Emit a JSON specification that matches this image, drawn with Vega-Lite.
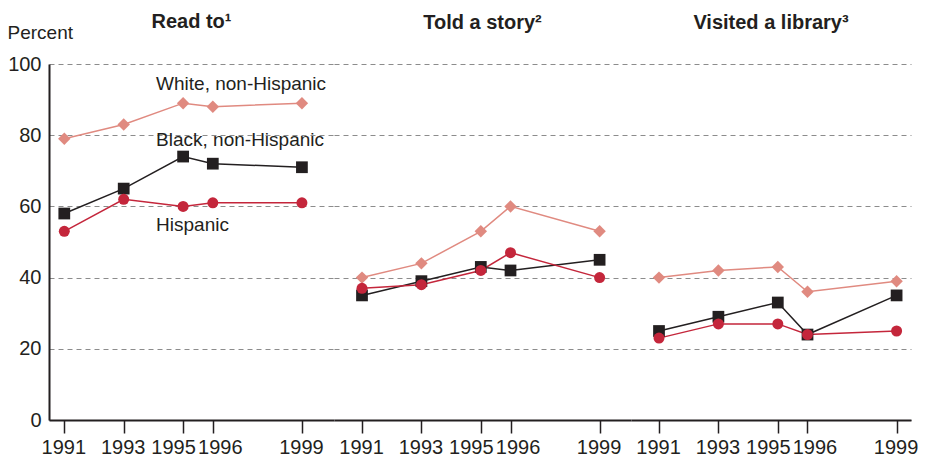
{
  "$schema": "https://vega.github.io/schema/vega-lite/v6.json",
  "background": "white",
  "padding": {"left": 7, "top": 12, "right": 5, "bottom": 0},
  "spacing": 0,
  "bounds": "flush",
  "datasets": {
    "rates": [
      {"activity": "Read to", "group": "White, non-Hispanic", "year": 1991, "percent": 79},
      {"activity": "Read to", "group": "White, non-Hispanic", "year": 1993, "percent": 83},
      {"activity": "Read to", "group": "White, non-Hispanic", "year": 1995, "percent": 89},
      {"activity": "Read to", "group": "White, non-Hispanic", "year": 1996, "percent": 88},
      {"activity": "Read to", "group": "White, non-Hispanic", "year": 1999, "percent": 89},
      {"activity": "Told a story", "group": "White, non-Hispanic", "year": 1991, "percent": 40},
      {"activity": "Told a story", "group": "White, non-Hispanic", "year": 1993, "percent": 44},
      {"activity": "Told a story", "group": "White, non-Hispanic", "year": 1995, "percent": 53},
      {"activity": "Told a story", "group": "White, non-Hispanic", "year": 1996, "percent": 60},
      {"activity": "Told a story", "group": "White, non-Hispanic", "year": 1999, "percent": 53},
      {"activity": "Visited a library", "group": "White, non-Hispanic", "year": 1991, "percent": 40},
      {"activity": "Visited a library", "group": "White, non-Hispanic", "year": 1993, "percent": 42},
      {"activity": "Visited a library", "group": "White, non-Hispanic", "year": 1995, "percent": 43},
      {"activity": "Visited a library", "group": "White, non-Hispanic", "year": 1996, "percent": 36},
      {"activity": "Visited a library", "group": "White, non-Hispanic", "year": 1999, "percent": 39},
      {"activity": "Read to", "group": "Black, non-Hispanic", "year": 1991, "percent": 58},
      {"activity": "Read to", "group": "Black, non-Hispanic", "year": 1993, "percent": 65},
      {"activity": "Read to", "group": "Black, non-Hispanic", "year": 1995, "percent": 74},
      {"activity": "Read to", "group": "Black, non-Hispanic", "year": 1996, "percent": 72},
      {"activity": "Read to", "group": "Black, non-Hispanic", "year": 1999, "percent": 71},
      {"activity": "Told a story", "group": "Black, non-Hispanic", "year": 1991, "percent": 35},
      {"activity": "Told a story", "group": "Black, non-Hispanic", "year": 1993, "percent": 39},
      {"activity": "Told a story", "group": "Black, non-Hispanic", "year": 1995, "percent": 43},
      {"activity": "Told a story", "group": "Black, non-Hispanic", "year": 1996, "percent": 42},
      {"activity": "Told a story", "group": "Black, non-Hispanic", "year": 1999, "percent": 45},
      {"activity": "Visited a library", "group": "Black, non-Hispanic", "year": 1991, "percent": 25},
      {"activity": "Visited a library", "group": "Black, non-Hispanic", "year": 1993, "percent": 29},
      {"activity": "Visited a library", "group": "Black, non-Hispanic", "year": 1995, "percent": 33},
      {"activity": "Visited a library", "group": "Black, non-Hispanic", "year": 1996, "percent": 24},
      {"activity": "Visited a library", "group": "Black, non-Hispanic", "year": 1999, "percent": 35},
      {"activity": "Read to", "group": "Hispanic", "year": 1991, "percent": 53},
      {"activity": "Read to", "group": "Hispanic", "year": 1993, "percent": 62},
      {"activity": "Read to", "group": "Hispanic", "year": 1995, "percent": 60},
      {"activity": "Read to", "group": "Hispanic", "year": 1996, "percent": 61},
      {"activity": "Read to", "group": "Hispanic", "year": 1999, "percent": 61},
      {"activity": "Told a story", "group": "Hispanic", "year": 1991, "percent": 37},
      {"activity": "Told a story", "group": "Hispanic", "year": 1993, "percent": 38},
      {"activity": "Told a story", "group": "Hispanic", "year": 1995, "percent": 42},
      {"activity": "Told a story", "group": "Hispanic", "year": 1996, "percent": 47},
      {"activity": "Told a story", "group": "Hispanic", "year": 1999, "percent": 40},
      {"activity": "Visited a library", "group": "Hispanic", "year": 1991, "percent": 23},
      {"activity": "Visited a library", "group": "Hispanic", "year": 1993, "percent": 27},
      {"activity": "Visited a library", "group": "Hispanic", "year": 1995, "percent": 27},
      {"activity": "Visited a library", "group": "Hispanic", "year": 1996, "percent": 24},
      {"activity": "Visited a library", "group": "Hispanic", "year": 1999, "percent": 25}
    ],
    "labels": [
      {"label": "White, non-Hispanic", "year": 1994.09, "percent": 92.8},
      {"label": "Black, non-Hispanic", "year": 1994.09, "percent": 76.9},
      {"label": "Hispanic", "year": 1994.09, "percent": 53.1}
    ],
    "edge": [{"top": 100, "bottom": -15}]
  },
  "hconcat": [
    {
      "width": 285,
      "height": 356,
      "title": {"text": "Read to¹", "frame": "group", "anchor": "middle", "baseline": "alphabetic", "offset": 15, "dy": 40},
      "data": {"name": "rates"},
      "transform": [{"filter": "datum.activity === 'Read to'"}],
      "encoding": {
        "x": {"field": "year", "type": "quantitative", "scale": {"domain": [1990.485, 2000.08], "nice": false, "zero": false},
          "axis": {"values": [1991, 1993, 1995, 1996, 1999]}},
        "y": {"field": "percent", "type": "quantitative", "scale": {"domain": [0, 100], "nice": false},
          "axis": {"values": [0, 20, 40, 60, 80, 100], "title": "Percent", "titleAngle": 0, "titleAlign": "left", "titleBaseline": "alphabetic", "titleX": -42, "titleY": -26, "titleFontSize": 19, "titleFontWeight": "normal", "titleColor": "#231f20", "labelFontSize": 20, "labelPadding": 8, "ticks": false, "domain": true}}
      },
      "layer": [
        {"mark": {"type": "line", "strokeWidth": 1.5}, "encoding": {"color": {"field": "group", "type": "nominal", "legend": null, "scale": {"domain": ["White, non-Hispanic", "Black, non-Hispanic", "Hispanic"], "range": ["#e08a80", "#231f20", "#c4263b"]}}}},
        {"mark": {"type": "point", "filled": true, "opacity": 1}, "encoding": {"color": {"field": "group", "type": "nominal", "legend": null, "scale": {"domain": ["White, non-Hispanic", "Black, non-Hispanic", "Hispanic"], "range": ["#e08a80", "#231f20", "#c4263b"]}}, "shape": {"field": "group", "type": "nominal", "legend": null, "scale": {"domain": ["White, non-Hispanic", "Black, non-Hispanic", "Hispanic"], "range": ["diamond", "square", "circle"]}}, "size": {"field": "group", "type": "nominal", "legend": null, "scale": {"domain": ["White, non-Hispanic", "Black, non-Hispanic", "Hispanic"], "range": [155, 121, 121]}}}},
        {"data": {"name": "labels"}, "mark": {"type": "text", "align": "left", "baseline": "alphabetic", "fontSize": 19, "color": "#231f20"}, "encoding": {"text": {"field": "label"}}}
      ]
    },
    {
      "width": 297,
      "height": 356,
      "title": {"text": "Told a story²", "frame": "group", "anchor": "middle", "baseline": "alphabetic", "offset": 15},
      "data": {"name": "rates"},
      "transform": [{"filter": "datum.activity === 'Told a story'"}],
      "encoding": {
        "x": {"field": "year", "type": "quantitative", "scale": {"domain": [1990.057, 2000.057], "nice": false, "zero": false},
          "axis": {"values": [1991, 1993, 1995, 1996, 1999]}},
        "y": {"field": "percent", "type": "quantitative", "scale": {"domain": [0, 100], "nice": false},
          "axis": {"values": [0, 20, 40, 60, 80, 100], "title": null, "labels": false, "ticks": false, "domain": false}}
      },
      "layer": [
        {"mark": {"type": "line", "strokeWidth": 1.5}, "encoding": {"color": {"field": "group", "type": "nominal", "legend": null, "scale": {"domain": ["White, non-Hispanic", "Black, non-Hispanic", "Hispanic"], "range": ["#e08a80", "#231f20", "#c4263b"]}}}},
        {"mark": {"type": "point", "filled": true, "opacity": 1}, "encoding": {"color": {"field": "group", "type": "nominal", "legend": null, "scale": {"domain": ["White, non-Hispanic", "Black, non-Hispanic", "Hispanic"], "range": ["#e08a80", "#231f20", "#c4263b"]}}, "shape": {"field": "group", "type": "nominal", "legend": null, "scale": {"domain": ["White, non-Hispanic", "Black, non-Hispanic", "Hispanic"], "range": ["diamond", "square", "circle"]}}, "size": {"field": "group", "type": "nominal", "legend": null, "scale": {"domain": ["White, non-Hispanic", "Black, non-Hispanic", "Hispanic"], "range": [155, 121, 121]}}}},
        {"data": {"name": "edge"}, "mark": {"type": "rule", "strokeWidth": 2, "color": "#231f20"}, "encoding": {"x": {"datum": 1990.057}, "y": {"field": "top", "type": "quantitative"}, "y2": {"field": "bottom"}}}
      ]
    },
    {
      "width": 280,
      "height": 356,
      "title": {"text": "Visited a library³", "frame": "group", "anchor": "middle", "baseline": "alphabetic", "offset": 15},
      "data": {"name": "rates"},
      "transform": [{"filter": "datum.activity === 'Visited a library'"}],
      "encoding": {
        "x": {"field": "year", "type": "quantitative", "scale": {"domain": [1990.057, 1999.485], "nice": false, "zero": false},
          "axis": {"values": [1991, 1993, 1995, 1996, 1999]}},
        "y": {"field": "percent", "type": "quantitative", "scale": {"domain": [0, 100], "nice": false},
          "axis": {"values": [0, 20, 40, 60, 80, 100], "title": null, "labels": false, "ticks": false, "domain": false}}
      },
      "layer": [
        {"mark": {"type": "line", "strokeWidth": 1.5}, "encoding": {"color": {"field": "group", "type": "nominal", "legend": null, "scale": {"domain": ["White, non-Hispanic", "Black, non-Hispanic", "Hispanic"], "range": ["#e08a80", "#231f20", "#c4263b"]}}}},
        {"mark": {"type": "point", "filled": true, "opacity": 1}, "encoding": {"color": {"field": "group", "type": "nominal", "legend": null, "scale": {"domain": ["White, non-Hispanic", "Black, non-Hispanic", "Hispanic"], "range": ["#e08a80", "#231f20", "#c4263b"]}}, "shape": {"field": "group", "type": "nominal", "legend": null, "scale": {"domain": ["White, non-Hispanic", "Black, non-Hispanic", "Hispanic"], "range": ["diamond", "square", "circle"]}}, "size": {"field": "group", "type": "nominal", "legend": null, "scale": {"domain": ["White, non-Hispanic", "Black, non-Hispanic", "Hispanic"], "range": [155, 121, 121]}}}},
        {"data": {"name": "edge"}, "mark": {"type": "rule", "strokeWidth": 2, "color": "#231f20"}, "encoding": {"x": {"datum": 1990.057}, "y": {"field": "top", "type": "quantitative"}, "y2": {"field": "bottom"}}}
      ]
    }
  ],
  "resolve": {"scale": {"color": "shared", "shape": "shared", "size": "shared"}},
  "config": {
    "font": "Liberation Sans",
    "view": {"stroke": null},
    "title": {"fontSize": 20, "fontWeight": "bold", "color": "#231f20"},
    "axis": {
      "labelColor": "#231f20",
      "labelFont": "Liberation Sans",
      "domainColor": "#231f20",
      "domainWidth": 2,
      "gridColor": "#8c8c8c",
      "gridDash": [5, 4],
      "gridWidth": 1
    },
    "axisY": {"grid": true},
    "axisX": {
      "format": "d",
      "title": null,
      "grid": false,
      "tickSize": 13,
      "tickWidth": 1.5,
      "tickColor": "#231f20",
      "labelFontSize": 20,
      "labelPadding": 4,
      "labelOverlap": false,
      "labelOffset": {"condition": [{"test": "datum.value === 1995", "value": -10}, {"test": "datum.value === 1996", "value": 7}], "value": -1}
    }
  }
}
